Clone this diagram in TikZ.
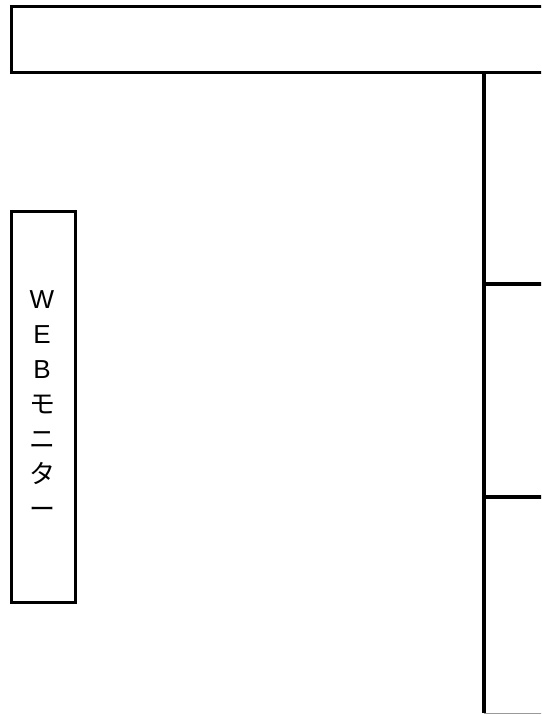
\documentclass[tikz,border=0pt]{standalone}
\usepackage{fontspec}
\newfontfamily\jpfont{Noto Sans CJK JP}
\newfontfamily\latinfont{Liberation Sans}
\tikzset{
  box/.style={draw=black, line width=3.2pt, inner sep=0pt},
  rule/.style={draw=black, line width=3.2pt},
  thinrule/.style={draw=black!40, line width=1pt}
}
\begin{document}
\begin{tikzpicture}[x=1pt,y=-1pt]
\useasboundingbox (0,0) rectangle (541,715);
\clip (0,0) rectangle (541,715);
\fill[white] (0,0) rectangle (541,715);
% top bar (runs past right edge)
\node[box, anchor=north west, minimum width=560pt, minimum height=66pt] (top) at (10,5) {};
% left WEB monitor box
\node[box, anchor=north west, minimum width=64pt, minimum height=391pt] (web) at (10,210) {};
\node[font=\fontsize{26}{35}\selectfont, align=center, inner sep=0pt] (webtext) at (42,405)
  {{\latinfont W}\\{\latinfont E}\\{\latinfont B}\\{\jpfont モ}\\{\jpfont ニ}\\{\jpfont タ}\\{\jpfont ー}};
% right column
\coordinate (c0) at (484,71);
\coordinate (c3) at (484,713);
\coordinate (r1) at (484,284);
\coordinate (r2) at (484,497);
\coordinate (e1) at (545,284);
\coordinate (e2) at (545,497);
\coordinate (e3) at (545,713);
\draw[thinrule] (c3) -- (e3);
\draw[rule] (c0) -- (c3);
\draw[rule] (r1) -- (e1);
\draw[rule] (r2) -- (e2);
\end{tikzpicture}
\end{document}
